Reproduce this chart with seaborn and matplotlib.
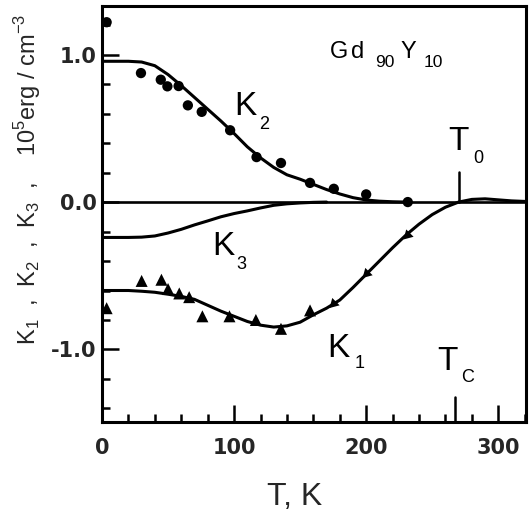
import numpy as np
import pandas as pd
import matplotlib
matplotlib.use('Agg')
import matplotlib.pyplot as plt
import seaborn as sns
from matplotlib.ticker import MultipleLocator

# measured anisotropy constants (T in K, K in 10^5 erg/cm^3)
t_k2_pts = [3.5, 29.5, 44.5, 49.5, 58, 65, 75.5, 97, 117, 135.5, 157.5, 175.5, 200, 231.5]
k2_pts = [1.22, 0.875, 0.83, 0.785, 0.787, 0.656, 0.612, 0.487, 0.305, 0.265, 0.13, 0.09, 0.052, 0.0]

t_k1_pts = [3.5, 30, 45, 50, 58.5, 66, 76, 96.5, 116.5, 135.5, 157.5, 175.5, 200.5, 231.5]
k1_pts = [-0.72, -0.535, -0.527, -0.59, -0.62, -0.645, -0.775, -0.775, -0.80, -0.86,
          -0.735, -0.69, -0.486, -0.225]

# fitted curves
t_k2_fit = [0, 10, 20, 30, 40, 50, 60, 70, 80, 90, 100, 110, 120, 130, 140, 150, 160,
            170, 180, 190, 200, 210, 220, 230]
k2_fit = [0.955, 0.955, 0.955, 0.95, 0.925, 0.865, 0.79, 0.71, 0.63, 0.55, 0.465, 0.375,
          0.30, 0.235, 0.185, 0.155, 0.12, 0.085, 0.055, 0.03, 0.014, 0.006, 0.002, 0.0]

t_k3_fit = [0, 10, 20, 30, 40, 50, 60, 70, 80, 90, 100, 110, 120, 130, 140, 150, 160, 170]
k3_fit = [-0.24, -0.24, -0.24, -0.238, -0.23, -0.21, -0.185, -0.155, -0.128, -0.10,
          -0.078, -0.06, -0.04, -0.022, -0.012, -0.006, -0.002, 0.0]

t_k1_fit = [0, 10, 20, 30, 40, 50, 60, 70, 80, 90, 100, 110, 120, 130, 140, 150, 160,
            170, 180, 190, 200, 210, 220, 230, 240, 250, 260, 270, 280, 290, 300, 310, 321]
k1_fit = [-0.60, -0.60, -0.60, -0.605, -0.612, -0.625, -0.64, -0.66, -0.70, -0.74, -0.775,
          -0.81, -0.835, -0.848, -0.84, -0.815, -0.765, -0.72, -0.665, -0.58, -0.49, -0.40,
          -0.31, -0.225, -0.15, -0.085, -0.035, 0.0, 0.018, 0.022, 0.015, 0.008, 0.004]

T0 = 270
TC = 267

x_ticks = [0, 100, 200, 300]
x_tick_labels = ['0', '100', '200', '300']
y_ticks = [-1.0, 0.0, 1.0]
y_tick_labels = ['-1.0', '0.0', '1.0']

sns.set_theme(style='ticks')
plt.rcParams['font.family'] = ['Liberation Sans', 'DejaVu Sans']
plt.rcParams['axes.unicode_minus'] = False

fig = plt.figure(figsize=(5.32, 5.18), dpi=100)
ax = fig.add_axes([102 / 532, 1 - 421.7 / 518, 424 / 532, 415.7 / 518])

ax.axhline(0, color='black', lw=1.9, zorder=1)

sns.lineplot(x=t_k2_fit, y=k2_fit, ax=ax, color='black', lw=2.2, estimator=None, sort=False)
sns.lineplot(x=t_k3_fit, y=k3_fit, ax=ax, color='black', lw=2.2, estimator=None, sort=False)
sns.lineplot(x=t_k1_fit, y=k1_fit, ax=ax, color='black', lw=2.2, estimator=None, sort=False)

sns.scatterplot(x=t_k2_pts, y=k2_pts, ax=ax, color='black', marker='o', s=55,
                edgecolor='none', zorder=3)
# most triangles are upright, the last few look like arrow heads along the curve
sns.scatterplot(x=t_k1_pts[:-3], y=k1_pts[:-3], ax=ax, color='black', marker='^', s=75,
                edgecolor='none', zorder=3)
sns.scatterplot(x=t_k1_pts[-3:], y=k1_pts[-3:], ax=ax, color='black', marker=(3, 0, 135),
                s=75, edgecolor='none', zorder=3)

ax.set_xlim(0, 321)
ax.set_ylim(-1.49, 1.33)

# T0 marker and Tc tick
ax.plot([T0, T0], [0, 0.205], color='black', lw=1.8)
ax.plot([TC, TC], [-1.49, -1.49 + 25 / 147.4], color='black', lw=1.8, clip_on=False)

ax.set_xticks(x_ticks, labels=x_tick_labels, fontsize=15, fontweight='bold', family='DejaVu Sans')
ax.set_yticks(y_ticks, labels=y_tick_labels, fontsize=15, fontweight='bold', family='DejaVu Sans')
ax.xaxis.set_minor_locator(MultipleLocator(20))
ax.yaxis.set_minor_locator(MultipleLocator(0.2))
ax.tick_params(which='major', direction='in', length=12, width=1.8, color='black',
               top=False, right=False)
ax.tick_params(which='minor', direction='in', length=6, width=1.8, color='black',
               top=False, right=False)
ax.tick_params(axis='x', pad=12)
ax.tick_params(axis='y', pad=4)
for s in ax.spines.values():
    s.set_linewidth(2.2)
    s.set_color('black')
ax.set_xlabel('')
ax.set_ylabel('')


def put(x, y, s, size):
    ax.text(x, y, s, fontsize=size, ha='left', va='baseline', color='black')


put(100, 0.588, 'K', 24)
put(119, 0.493, '2', 13)
put(83.3, -0.362, 'K', 24)
put(101.5, -0.457, '3', 13)
put(170.5, -1.054, 'K', 24)
put(191, -1.128, '1', 13)
put(253.8, -1.142, 'T', 24)
put(272, -1.223, 'C', 13)
put(262, 0.351, 'T', 24)
put(281, 0.263, '0', 13)

put(172.7, 0.98, 'G', 17)
put(188.4, 0.98, 'd', 17)
put(206.5, 0.916, '90', 12.5)
put(225.8, 0.98, 'Y', 17)
put(243.2, 0.916, '10', 12.5)

fig.text(28 / 532, 1 - 179 / 518,
         r'K$_{\mathregular{1}}$  ,  K$_{\mathregular{2}}$  ,  K$_{\mathregular{3}}$  ,    '
         r'10$^{\mathregular{5}}$erg / cm$^{\mathregular{-3}}$',
         rotation=90, ha='center', va='center', fontsize=17)
fig.text(267 / 532, 1 - 505 / 518, 'T, K', fontsize=23, ha='left', va='baseline')

fig.savefig('out.png', dpi=100)
